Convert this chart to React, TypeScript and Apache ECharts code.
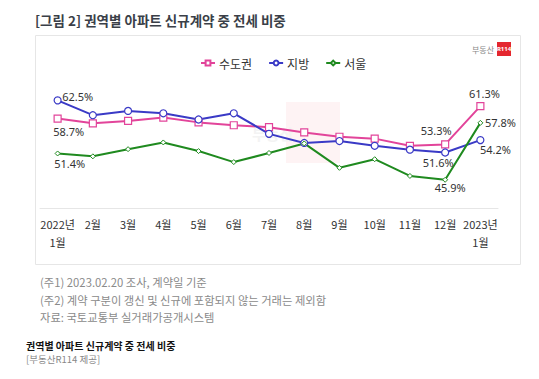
import React, { useEffect, useRef } from "react";
import * as echarts from "echarts";

const categories = ["2022년\n1월", "2월", "3월", "4월", "5월", "6월", "7월", "8월", "9월", "10월", "11월", "12월", "2023년\n1월"];
const metro = [58.7, 57.7, 58.2, 58.9, 57.9, 57.3, 56.9, 55.8, 54.9, 54.5, 53.0, 53.3, 61.3];
const regional = [62.5, 59.4, 60.3, 59.8, 58.5, 59.8, 55.5, 53.6, 54.0, 53.0, 52.2, 51.6, 54.2];
const seoul = [51.4, 50.8, 52.3, 53.7, 51.9, 49.6, 51.5, 53.5, 48.4, 50.2, 46.7, 45.9, 57.8];
const seriesNames = ["수도권", "지방", "서울"];
const footnotes = ["(주1) 2023.02.20 조사, 계약일 기준", "(주2) 계약 구분이 갱신 및 신규에 포함되지 않는 거래는 제외함", "자료: 국토교통부 실거래가공개시스템"];

const KR = "'Noto Sans CJK KR', 'Noto Sans', sans-serif";

const labelOffsets: Record<string, Record<number, [number, number]>> = {
  metro: { 0: [11, 13], 11: [-9, -14], 12: [4, -13] },
  regional: { 0: [20, -4], 11: [-7, 10], 12: [15, 9] },
  seoul: { 0: [12, 10], 11: [5, 8], 12: [20, 0] },
};

function buildData(values: number[], key: string) {
  return values.map((v, i) => {
    const off = labelOffsets[key][i];
    if (!off) return v;
    return {
      value: v,
      label: {
        show: true,
        position: "inside",
        offset: off,
        formatter: (p: any) => p.value.toFixed(1) + "%",
        color: "#333",
        fontSize: 11,
        fontFamily: "'Noto Sans', sans-serif",
      },
    };
  });
}

export default function App() {
  const ref = useRef<HTMLDivElement>(null);
  useEffect(() => {
    if (!ref.current) return;
    const chart = echarts.init(ref.current, undefined, { renderer: "svg" });
    const colors = ["#e2449a", "#3a3ac6", "#1f8a1f"];
    chart.setOption({
      animation: false,
      backgroundColor: "#fff",
      textStyle: { fontFamily: KR },
      graphic: [
        { type: "rect", z: -10, silent: true, shape: { x: 35.5, y: 35.5, width: 485, height: 229 }, style: { fill: "#fff", stroke: "#e6e6e6", lineWidth: 1 } },
        { type: "rect", z: -9, silent: true, shape: { x: 286, y: 102, width: 54, height: 61 }, style: { fill: "#fef3f4" } },
        { type: "text", z: -9, silent: true, x: 252, y: 133, style: { text: "부동산", fill: "#f3f3f3", fontSize: 15, fontWeight: "bold", fontFamily: KR, verticalAlign: "middle" } },
        { type: "text", x: 35, y: 20, style: { text: "[그림 2] 권역별 아파트 신규계약 중 전세 비중", fill: "#3a3f48", fontSize: 13.5, fontWeight: "bold", fontFamily: KR, verticalAlign: "middle" } },
        { type: "text", x: 494, y: 49, style: { text: "부동산", fill: "#888", fontSize: 8, fontFamily: KR, align: "right", verticalAlign: "middle" } },
        { type: "rect", shape: { x: 497, y: 42, width: 14, height: 14 }, style: { fill: "#e4262f" } },
        { type: "text", x: 504, y: 49, style: { text: "R114", fill: "#fff", fontSize: 6, fontWeight: "bold", fontFamily: "'Noto Sans', sans-serif", align: "center", verticalAlign: "middle" } },
        ...footnotes.map((t, i) => ({ type: "text", x: 40, y: 282 + i * 17.5, style: { text: t, fill: "#8a8a8a", fontSize: 11.3, fontFamily: KR, verticalAlign: "middle" } })),
        { type: "text", x: 26, y: 345, style: { text: "권역별 아파트 신규계약 중 전세 비중", fill: "#111", fontSize: 10, fontWeight: "bold", fontFamily: KR, verticalAlign: "middle" } },
        { type: "text", x: 26, y: 359, style: { text: "[부동산R114 제공]", fill: "#888", fontSize: 9.5, fontFamily: KR, verticalAlign: "middle" } },
      ],
      legend: {
        left: 195,
        top: 52,
        itemWidth: 14,
        itemHeight: 6,
        itemGap: 16,
        textStyle: { fontSize: 12, color: "#333", fontFamily: KR, padding: [0, 0, 0, -1] },
        data: seriesNames,
      },
      grid: { left: 40, right: 41, top: 64.5, bottom: 171 },
      xAxis: {
        type: "category",
        data: categories,
        boundaryGap: true,
        axisLine: { lineStyle: { color: "#e6e6e6" } },
        axisTick: { show: false },
        axisLabel: { color: "#333", fontSize: 11, lineHeight: 18, margin: 7, interval: 0, fontFamily: KR },
      },
      yAxis: { type: "value", min: 40, max: 70, show: false, splitLine: { show: false } },
      series: [
        { name: seriesNames[0], type: "line", data: buildData(metro, "metro"), symbol: "rect", symbolSize: 7, itemStyle: { color: "#fff", borderColor: colors[0], borderWidth: 1.2 }, lineStyle: { color: colors[0], width: 2 }, color: colors[0] },
        { name: seriesNames[1], type: "line", data: buildData(regional, "regional"), symbol: "circle", symbolSize: 7, itemStyle: { color: "#fff", borderColor: colors[1], borderWidth: 1.2 }, lineStyle: { color: colors[1], width: 2 }, color: colors[1] },
        { name: seriesNames[2], type: "line", data: buildData(seoul, "seoul"), symbol: "diamond", symbolSize: 5, itemStyle: { color: "#fff", borderColor: colors[2], borderWidth: 1 }, lineStyle: { color: colors[2], width: 2 }, color: colors[2] },
      ],
    });
    return () => chart.dispose();
  }, []);
  return <div ref={ref} style={{ position: "fixed", left: 0, top: 0, width: 539, height: 379 }} />;
}
